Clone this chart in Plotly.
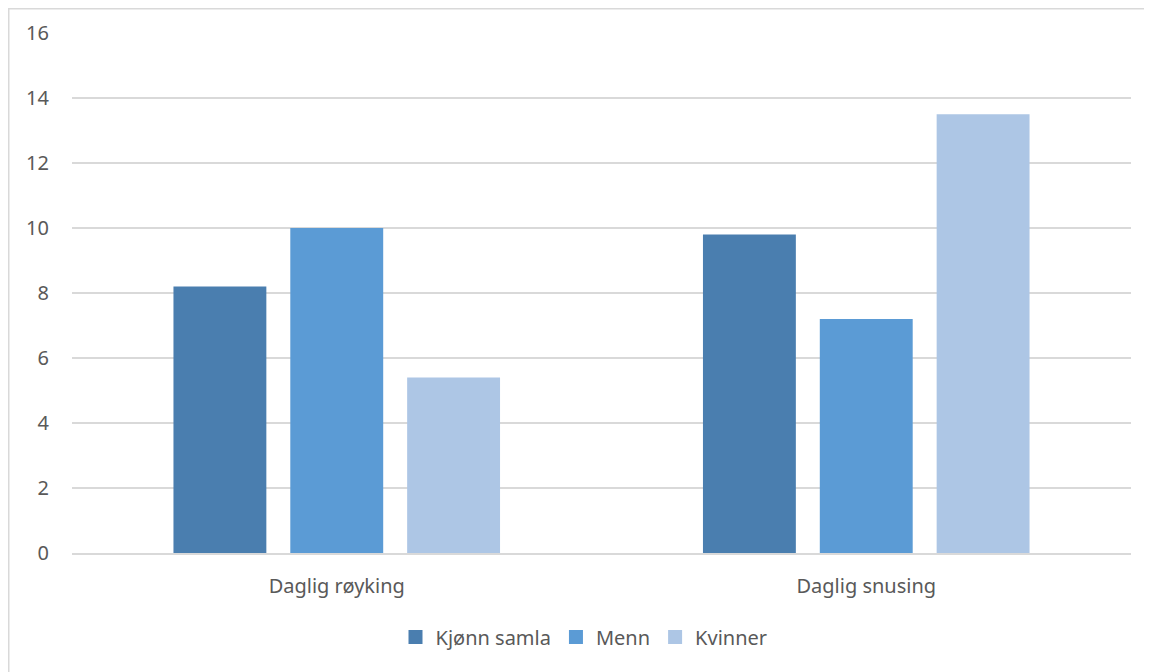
import plotly.graph_objects as go

categories = ["Daglig røyking", "Daglig snusing"]
series_names = ["Kjønn samla", "Menn", "Kvinner"]
kjonn_samla = [8.2, 9.8]
menn = [10.0, 7.2]
kvinner = [5.4, 13.5]
y_ticks = [0, 2, 4, 6, 8, 10, 12, 14, 16]

colors = ["#4A7EAF", "#5B9BD5", "#ADC6E5"]
values = [kjonn_samla, menn, kvinner]

font = dict(family="Noto Sans, Open Sans, sans-serif", size=20, color="#595959")

fig = go.Figure()
for name, vals, col in zip(series_names, values, colors):
    fig.add_trace(go.Bar(x=categories, y=vals, name=name, showlegend=False,
                         marker=dict(color=col, line=dict(width=0))))
# legend entries with square swatches
for name, col in zip(series_names, colors):
    fig.add_trace(go.Scatter(x=[None], y=[None], mode="markers", name=name,
                             marker=dict(symbol="square", size=14, color=col)))

# page has an 8px body offset; figure sized to fill the remaining window
W, H = 1144, 664
l, r, t, b = 64, 21, 25, 119
pw, ph = W - l - r, H - t - b

def px_to_paper_x(px):
    return (px - l) / pw

def px_to_paper_y(py):
    return (H - b - py) / ph

fig.update_layout(
    width=W, height=H,
    margin=dict(l=l, r=r, t=t, b=b),
    paper_bgcolor="white", plot_bgcolor="white",
    font=font,
    barmode="group", bargap=0.338, bargroupgap=0.205,
    showlegend=True,
    legend=dict(orientation="h", x=px_to_paper_x(576), xanchor="center",
                y=px_to_paper_y(629), yanchor="middle",
                font=font, itemwidth=30, traceorder="normal", tracegroupgap=0),
    yaxis=dict(range=[0, 16], tickvals=y_ticks, showgrid=True, gridcolor="#D9D9D9",
               gridwidth=1.5, zeroline=False, showline=False, ticks="",
               ticklabelstandoff=22, tickfont=font, fixedrange=True),
    xaxis=dict(showgrid=False, zeroline=False, showline=True, linecolor="#D9D9D9",
               linewidth=1.5, ticks="", ticklabelstandoff=14, tickfont=font),
    shapes=[dict(type="rect", xref="paper", yref="paper",
                 x0=px_to_paper_x(0.75), x1=px_to_paper_x(1165),
                 y0=px_to_paper_y(690), y1=px_to_paper_y(0.75),
                 line=dict(color="#D9D9D9", width=1.5), fillcolor="rgba(0,0,0,0)", layer="below")],
)

fig.write_html("out.html")
